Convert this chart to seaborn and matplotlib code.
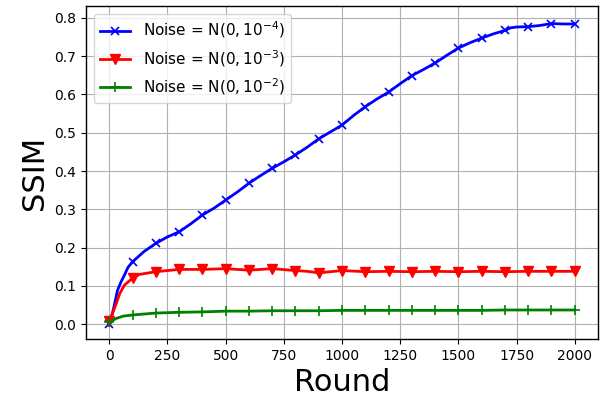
import matplotlib
matplotlib.use("Agg")
import matplotlib.pyplot as plt
import seaborn as sns
import pandas as pd

# ---- data ----
blue_rounds = [0, 10, 20, 35, 50, 65, 80, 100, 150, 200, 250, 300, 350, 400, 450, 500,
               550, 600, 650, 700, 750, 800, 850, 900, 950, 1000, 1050, 1100, 1150, 1200,
               1250, 1300, 1350, 1400, 1450, 1500, 1550, 1600, 1650, 1700, 1725, 1750,
               1800, 1850, 1900, 1950, 2000]
blue_ssim = [0.0, 0.02, 0.045, 0.088, 0.11, 0.128, 0.148, 0.163, 0.19, 0.211, 0.228, 0.241,
             0.262, 0.285, 0.303, 0.324, 0.345, 0.368, 0.388, 0.407, 0.424, 0.442, 0.462,
             0.484, 0.502, 0.520, 0.545, 0.568, 0.588, 0.606, 0.628, 0.649, 0.665, 0.682,
             0.702, 0.721, 0.735, 0.747, 0.758, 0.767, 0.774, 0.776, 0.777, 0.780, 0.785,
             0.784, 0.784]

red_rounds = [0, 15, 30, 45, 65, 100, 130, 200, 300, 400, 500, 600, 700, 800, 850, 900,
              950, 1000, 1100, 1200, 1300, 1400, 1500, 1600, 1700, 1800, 1900, 2000]
red_ssim = [0.008, 0.03, 0.054, 0.08, 0.102, 0.12, 0.13, 0.137, 0.143, 0.143, 0.145, 0.141,
            0.145, 0.140, 0.138, 0.134, 0.137, 0.140, 0.137, 0.138, 0.137, 0.138, 0.137,
            0.138, 0.137, 0.138, 0.138, 0.138]

green_rounds = [0, 30, 60, 100, 200, 300, 400, 500, 600, 700, 800, 900, 1000, 1100, 1200,
                1300, 1400, 1500, 1600, 1700, 1800, 1900, 2000]
green_ssim = [0.005, 0.015, 0.021, 0.024, 0.029, 0.031, 0.032, 0.034, 0.034, 0.035, 0.035,
              0.035, 0.036, 0.036, 0.036, 0.036, 0.036, 0.036, 0.036, 0.037, 0.037, 0.037,
              0.037]

labels = [r"Noise = N$(0, 10^{-4})$", r"Noise = N$(0, 10^{-3})$", r"Noise = N$(0, 10^{-2})$"]
marker_step = 100
x_ticks = [0, 250, 500, 750, 1000, 1250, 1500, 1750, 2000]

# ---- plotting ----
plt.rcParams["font.family"] = ["DejaVu Sans"]
fig, ax = plt.subplots(figsize=(6.11, 3.98), dpi=100)
fig.subplots_adjust(left=0.1408, right=0.9787, top=0.985, bottom=0.148)

series = [
    (blue_rounds, blue_ssim, labels[0], "blue", "x", 6, 1.2),
    (red_rounds, red_ssim, labels[1], "red", "v", 7, 1.0),
    (green_rounds, green_ssim, labels[2], "green", "+", 7, 1.2),
]
for rounds, vals, lab, col, mk, ms, mew in series:
    df = pd.DataFrame({"Round": rounds, "SSIM": vals})
    every = [i for i, r in enumerate(rounds) if r % marker_step == 0]
    sns.lineplot(data=df, x="Round", y="SSIM", ax=ax, color=col, marker=mk,
                 markersize=ms, markevery=every, linewidth=2, label=lab,
                 markeredgewidth=mew, markeredgecolor=col)

ax.set_xticks(x_ticks)
ax.set_xlim(-100, 2100)
ax.set_ylim(-0.039, 0.831)
ax.grid(True, color="#b0b0b0", linewidth=0.8)
ax.set_axisbelow(True)
ax.tick_params(labelsize=10)
ax.set_xlabel("Round", fontsize=22)
ax.set_ylabel("SSIM", fontsize=22)
for s in ax.spines.values():
    s.set_color("black")
    s.set_linewidth(1.0)
ax.legend(loc="upper left", fontsize=11)

fig.savefig("out.png", dpi=100)
